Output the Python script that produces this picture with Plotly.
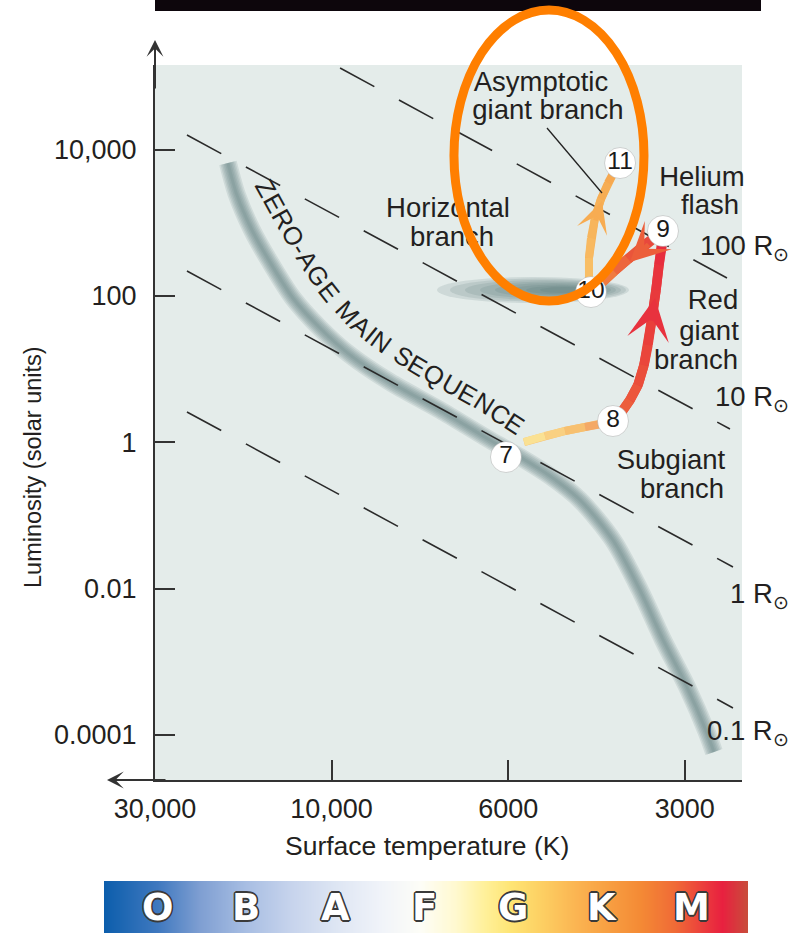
import math
import plotly.graph_objects as go

# ------------------------------------------------------------------ data
# x positions are places on the (schematic, non-linear) temperature scale
TEMP_TICK_POS = [0, 1, 2, 3]
TEMP_TICK_LABELS = ["30,000", "10,000", "6000", "3000"]
LUM_TICK_VALS = [1e4, 1e2, 1, 1e-2, 1e-4]
LUM_TICK_LABELS = ["10,000", "100", "1", "0.01", "0.0001"]

ZAMS_T = [0.413, 0.464, 0.549, 0.651, 0.781, 0.934, 1.104, 1.331, 1.614, 1.897,
          2.067, 2.237, 2.407, 2.593, 2.746, 2.877, 3.013, 3.126, 3.165]
ZAMS_L = [6560, 2390, 796, 291, 93.6, 36.4, 15.6, 6.65, 2.76, 1.07,
          0.628, 0.345, 0.162, 0.0460, 0.00954, 0.00198, 0.00045, 0.000106, 0.0000582]

ZAMS_TEXT = "ZERO-AGE MAIN SEQUENCE"
ZAMS_TEXT_T = [0.6285, 0.7361, 0.8494, 0.9796, 1.1155, 1.2741, 1.4553, 1.6478, 1.8403, 2.0385]
ZAMS_TEXT_L = [2987, 1017, 349, 120.4, 49.9, 24.2, 12.49, 6.65, 3.66, 1.774]

RADIUS_NAMES = ["100", "10", "1", "0.1"]
RADIUS_T0 = [1.048, 0.181, 0.181, 0.181]
RADIUS_L0 = [130500, 15830, 219, 2.59]
RADIUS_T1 = [3.239, 3.256, 3.273, 3.273]
RADIUS_L1 = [175.7, 1.515, 0.0197, 0.000233]
RADIUS_LABEL_L = [466, 4.02, 0.0079, 0.000106]

STAGE_LABELS = ["7", "8", "9", "10", "11"]
STAGE_T = [1.9875, 2.5934, 2.8766, 2.4689, 2.6336]
STAGE_L = [0.628, 1.949, 771, 113, 6559]

SUBGIANT_T = [2.0895, 2.2084, 2.3216, 2.4349, 2.5312, 2.5934]
SUBGIANT_L = [1.006, 1.216, 1.423, 1.614, 1.774, 1.949]
RGB_T = [2.5934, 2.6387, 2.6897, 2.7350, 2.7690, 2.7916, 2.8143, 2.8369, 2.8539, 2.8709, 2.8766]
RGB_L = [1.949, 2.51, 3.78, 6.05, 11.36, 21.3, 49.9, 120.4, 264.6, 481, 771]
FLASH_T = [2.8766, 2.8313, 2.7577, 2.6784, 2.5991, 2.5198, 2.4689]
FLASH_L = [771, 638.6, 466, 319.6, 219, 145.4, 113]
AGB_T = [2.4689, 2.4575, 2.4575, 2.4689, 2.4915, 2.5255, 2.5651, 2.6048, 2.6336]
AGB_L = [113, 165, 330, 619, 1161, 2112, 3495, 5264, 6559]

ARROW_TIP_T = [2.8313, 2.6897, 2.5312]
ARROW_TIP_L = [93.6, 290.6, 1985]
ARROW_TAIL_T = [2.8086, 2.8030, 2.4915]
ARROW_TAIL_L = [44.0, 528.7, 1024]

REGION_LABELS = ["Asymptotic", "giant branch", "Horizontal", "branch", "Helium", "flash",
                 "Red", "giant", "branch", "Subgiant", "branch"]
REGION_T = [2.1857, 2.2254, 1.6591, 1.6818, 3.0974, 3.1427, 3.1597, 3.1370, 3.0634, 2.9219, 2.9841]
REGION_L = [78900, 32700, 1494, 600, 3964, 1642, 82.5, 31.1, 12.5, 0.536, 0.215]

HB_T, HB_L = 2.1404, 120.4
LEADER_T = [2.2197, 2.5312]
LEADER_L = [19740, 2551]
HIGHLIGHT_T = [1.693, 2.769]
HIGHLIGHT_L = [85.2, 809700]

SPECTRAL_CLASSES = ["O", "B", "A", "F", "G", "K", "M"]

# ------------------------------------------------------------------ style / geometry
FIG_W, FIG_H = 803, 933
FONT = "Liberation Sans, Arial, Helvetica, sans-serif"
INK = "#231f20"
AX = "#333333"
X_PX = (155, 742)          # left, right of main plot area
Y_PX = (65, 780)           # top, bottom
X_RANGE = [0.0, 3.324]
Y_RANGE = [-4.618, 5.157]  # log10 luminosity

BAR_PX = (104, 748, 881)   # left, right, top of spectral bar
BAR_RANGE = [-0.596, 6.64]
BAR_STOPS = [-0.596, 0, 0.483, 1, 1.494, 1.989, 2.506, 2.955, 3.348, 3.685, 3.966,
             4.303, 4.697, 5.034, 5.427, 5.820, 6.157, 6.348, 6.64]
BAR_COLORS = ["#0c5eac", "#3f78bf", "#7f9fd2", "#a8bee3", "#c6d3ec", "#dde5f3", "#f0f3f9",
              "#fdfdf7", "#fff9d0", "#fff099", "#fee575", "#fdd063", "#fbb552", "#f8a143",
              "#f48a35", "#f06a36", "#eb3a3d", "#e8203f", "#c84e3b"]

LABEL_SIZE = 27.5
TICK_SIZE = 27
ARROW_COLORS = ["#e8323e", "#ec5e3a", "#f7ac52"]
ARROW_SIZES = [1.4, 1.3, 1.05]


def t_to_px(u):
    return X_PX[0] + (u - X_RANGE[0]) / (X_RANGE[1] - X_RANGE[0]) * (X_PX[1] - X_PX[0])


def l_to_py(L):
    return Y_PX[1] - (math.log10(L) - Y_RANGE[0]) / (Y_RANGE[1] - Y_RANGE[0]) * (Y_PX[1] - Y_PX[0])


def px_to_data(px, py):
    u = X_RANGE[0] + (px - X_PX[0]) / (X_PX[1] - X_PX[0]) * (X_RANGE[1] - X_RANGE[0])
    lg = Y_RANGE[0] + (Y_PX[1] - py) / (Y_PX[1] - Y_PX[0]) * (Y_RANGE[1] - Y_RANGE[0])
    return u, lg


def pxp(px, py):
    return px / FIG_W, 1 - py / FIG_H


def hex2rgb(h):
    h = h.lstrip("#")
    return [int(h[i:i + 2], 16) for i in (0, 2, 4)]


def grad(cols, t):
    n = len(cols) - 1
    k = min(int(t * n), n - 1)
    f = t * n - k
    a, b = hex2rgb(cols[k]), hex2rgb(cols[k + 1])
    return "rgb(%d,%d,%d)" % tuple(round(a[i] + (b[i] - a[i]) * f) for i in range(3))


fig = go.Figure()
annotations = []
shapes = []

# ---- zero-age main sequence band (soft, built from stacked translucent strokes)
for w in [18, 15, 12, 9, 6, 3]:
    fig.add_trace(go.Scatter(x=ZAMS_T, y=ZAMS_L, mode="lines",
                             line=dict(color="rgba(88,122,120,0.15)", width=w, shape="spline", smoothing=0.8),
                             hoverinfo="skip"))

# ---- horizontal branch blob (shape coordinates on a log axis are data values)
blob_layers = [(0, 96, 13), (5, 88, 11.5), (10, 78, 10), (15, 68, 8.5), (20, 58, 7),
               (25, 47, 5.5), (29, 36, 4.2), (32, 25, 3)]
for off, rx, ry in blob_layers:
    cx = t_to_px(HB_T) + off
    cy = l_to_py(HB_L)
    u0, l0 = px_to_data(cx - rx, cy + ry)
    u1, l1 = px_to_data(cx + rx, cy - ry)
    shapes.append(dict(type="circle", xref="x", yref="y", x0=u0, x1=u1, y0=10 ** l0, y1=10 ** l1,
                       fillcolor="rgba(78,114,112,0.15)", line=dict(width=0), layer="below"))

# ---- constant radius dashed lines
for i in range(len(RADIUS_NAMES)):
    fig.add_trace(go.Scatter(x=[RADIUS_T0[i], RADIUS_T1[i]], y=[RADIUS_L0[i], RADIUS_L1[i]],
                             mode="lines", line=dict(color="#2a2a2a", width=1.6, dash="39px,28px"),
                             hoverinfo="skip"))

# ---- evolutionary track with colour gradients
tracks = [
    (SUBGIANT_T, SUBGIANT_L, ["#fbe99c", "#f7c070", "#f08656"], 8),
    (RGB_T, RGB_L, ["#ee6a3c", "#e9423b", "#e6263f"], 9.5),
    (FLASH_T, FLASH_L, ["#e3343d", "#ec5c3a", "#f39a45"], 10),
    (AGB_T, AGB_L, ["#f9c46c", "#f7b35a", "#f5a24a"], 8),
]
for xs, ys, cols, w in tracks:
    fig.add_trace(go.Scatter(x=xs, y=ys, mode="lines", line=dict(color=grad(cols, 0.5), width=w),
                             hoverinfo="skip"))
    n = len(xs)
    for i in range(n - 1):
        fig.add_trace(go.Scatter(x=xs[i:i + 2], y=ys[i:i + 2], mode="lines",
                                 line=dict(color=grad(cols, (i + 0.5) / (n - 1)), width=w),
                                 hoverinfo="skip"))

for i in range(len(ARROW_TIP_T)):
    annotations.append(dict(x=ARROW_TIP_T[i], y=math.log10(ARROW_TIP_L[i]), xref="x", yref="y",
                            ax=ARROW_TAIL_T[i], ay=math.log10(ARROW_TAIL_L[i]), axref="x", ayref="y",
                            text="", showarrow=True, arrowhead=3, arrowsize=ARROW_SIZES[i], arrowwidth=5,
                            arrowcolor=ARROW_COLORS[i], standoff=0))

# leader line for the AGB label
fig.add_trace(go.Scatter(x=LEADER_T, y=LEADER_L, mode="lines", line=dict(color="#222", width=1.3),
                         hoverinfo="skip"))

# ---- stage circles
fig.add_trace(go.Scatter(x=STAGE_T, y=STAGE_L, mode="markers+text", text=STAGE_LABELS,
                         textposition="middle center",
                         marker=dict(size=31, color="white", line=dict(color="rgba(120,120,120,0.3)", width=1)),
                         textfont=dict(size=24.5, family=FONT, color="#1a1a1a"),
                         cliponaxis=False, hoverinfo="skip"))

# ---- region labels (as text trace so the highlight ring can cover them)
fig.add_trace(go.Scatter(x=REGION_T, y=REGION_L, mode="text", text=REGION_LABELS,
                         textposition="middle center",
                         textfont=dict(size=LABEL_SIZE, family=FONT, color=INK),
                         cliponaxis=False, hoverinfo="skip"))

# ---- ZAMS curved label, one character at a time
ARIAL_W = {"Z": .611, "E": .667, "R": .722, "O": .778, "-": .333, "A": .667, "G": .778, " ": .278,
           "M": .833, "I": .278, "N": .722, "S": .667, "Q": .778, "U": .722, "C": .722}
pts = [(t_to_px(t), l_to_py(l)) for t, l in zip(ZAMS_TEXT_T, ZAMS_TEXT_L)]
cum = [0.0]
for a, b in zip(pts[:-1], pts[1:]):
    cum.append(cum[-1] + math.hypot(b[0] - a[0], b[1] - a[1]))


def point_at(s):
    s = max(0.0, min(cum[-1], s))
    for i in range(len(pts) - 1):
        if cum[i + 1] >= s:
            f = (s - cum[i]) / (cum[i + 1] - cum[i])
            return (pts[i][0] + (pts[i + 1][0] - pts[i][0]) * f,
                    pts[i][1] + (pts[i + 1][1] - pts[i][1]) * f)
    return pts[-1]


centers = []
acc = 0.0
for ch in ZAMS_TEXT:
    w = ARIAL_W[ch]
    centers.append(acc + w / 2)
    acc += w
scale = cum[-1] / (centers[-1] - centers[0])
for ch, cem in zip(ZAMS_TEXT, centers):
    if ch == " ":
        continue
    s = (cem - centers[0]) * scale
    px, py = point_at(s)
    p1, p2 = point_at(s - 10), point_at(s + 10)
    ang = math.degrees(math.atan2(p2[1] - p1[1], p2[0] - p1[0]))
    u, lg = px_to_data(px, py)
    annotations.append(dict(x=u, y=lg, xref="x", yref="y", text=ch, textangle=ang, showarrow=False,
                            xanchor="center", yanchor="middle",
                            font=dict(size=25.5, family=FONT, color=INK)))

# ---- radius labels
for i, nm in enumerate(RADIUS_NAMES):
    annotations.append(dict(x=791 / FIG_W, xref="paper", y=math.log10(RADIUS_LABEL_L[i]), yref="y",
                            text=nm + " R<sub>\u2299</sub>", showarrow=False, xanchor="right",
                            yanchor="middle", font=dict(size=LABEL_SIZE, family=FONT, color=INK)))

# ---- axis titles
x0, y0 = pxp(427, 846)
annotations.append(dict(x=x0, y=y0, xref="paper", yref="paper", text="Surface temperature (K)",
                        showarrow=False, xanchor="center", yanchor="middle",
                        font=dict(size=26.5, family=FONT, color=INK)))
x0, y0 = pxp(33, 467)
annotations.append(dict(x=x0, y=y0, xref="paper", yref="paper", text="Luminosity (solar units)",
                        showarrow=False, textangle=-90, xanchor="center", yanchor="middle",
                        font=dict(size=23.5, family=FONT, color=INK)))

# ---- axis arrow extensions
x0, y0 = pxp(155, 40)
annotations.append(dict(x=x0, y=y0, xref="paper", yref="paper", ax=0, ay=50, text="", showarrow=True,
                        arrowhead=3, arrowsize=1.4, arrowwidth=2, arrowcolor=AX, standoff=0))
x0, y0 = pxp(107, 780)
annotations.append(dict(x=x0, y=y0, xref="paper", yref="paper", ax=60, ay=0, text="", showarrow=True,
                        arrowhead=3, arrowsize=1.4, arrowwidth=2, arrowcolor=AX, standoff=0))

# ---- top dark strip and highlight ellipse
bx0, by0 = pxp(155, 11)
bx1, by1 = pxp(761, 0)
shapes.append(dict(type="rect", xref="paper", yref="paper", x0=bx0, x1=bx1, y0=by0, y1=by1,
                   fillcolor="#0d060c", line=dict(width=0), layer="above"))
ex0, ey0 = pxp(t_to_px(HIGHLIGHT_T[0]), l_to_py(HIGHLIGHT_L[0]))
ex1, ey1 = pxp(t_to_px(HIGHLIGHT_T[1]), l_to_py(HIGHLIGHT_L[1]))
shapes.append(dict(type="circle", xref="paper", yref="paper", x0=ex0, x1=ex1, y0=ey0, y1=ey1,
                   line=dict(color="#ff7f00", width=9), fillcolor="rgba(0,0,0,0)", layer="above"))

# ---- spectral class bar
lo, hi = BAR_STOPS[0], BAR_STOPS[-1]
cscale = [[(s - lo) / (hi - lo), c] for s, c in zip(BAR_STOPS, BAR_COLORS)]
fig.add_trace(go.Heatmap(x=BAR_STOPS, y=[0, 1], z=[BAR_STOPS, BAR_STOPS], colorscale=cscale,
                         zmin=lo, zmax=hi, zsmooth="best", showscale=False,
                         xaxis="x2", yaxis="y2", hoverinfo="skip"))
outline = ", ".join("%gpx %gpx 0 #3a3a3a" % (dx, dy) for dx, dy in
                    [(-1.6, 0), (1.6, 0), (0, -1.6), (0, 1.6), (-1.2, -1.2), (1.2, -1.2), (-1.2, 1.2), (1.2, 1.2)])
for k, cl in enumerate(SPECTRAL_CLASSES):
    annotations.append(dict(x=k, y=0.5, xref="x2", yref="y2", text=cl, showarrow=False,
                            xanchor="center", yanchor="middle",
                            font=dict(size=37, family="DejaVu Sans", color="white", weight="bold",
                                      shadow=outline)))

tickfont = dict(size=TICK_SIZE, family=FONT, color=INK)
fig.update_layout(
    width=FIG_W, height=FIG_H, margin=dict(l=0, r=0, t=0, b=0, pad=0),
    paper_bgcolor="white", plot_bgcolor="#e4ecea", showlegend=False, hovermode=False,
    font=dict(family=FONT, color=INK),
    xaxis=dict(domain=[X_PX[0] / FIG_W, X_PX[1] / FIG_W], range=X_RANGE, anchor="y",
               tickmode="array", tickvals=TEMP_TICK_POS, ticktext=TEMP_TICK_LABELS,
               ticks="inside", ticklen=20, tickwidth=1.5, tickcolor=AX, tickfont=tickfont,
               showline=True, linecolor=AX, linewidth=2, showgrid=False, zeroline=False,
               automargin=False, ticklabelstandoff=4, fixedrange=True),
    yaxis=dict(domain=[1 - Y_PX[1] / FIG_H, 1 - Y_PX[0] / FIG_H], type="log", range=Y_RANGE,
               anchor="x", tickmode="array", tickvals=LUM_TICK_VALS, ticktext=LUM_TICK_LABELS,
               ticks="inside", ticklen=20, tickwidth=1.5, tickcolor=AX, tickfont=tickfont,
               showline=True, linecolor=AX, linewidth=2, showgrid=False, zeroline=False,
               automargin=False, ticklabelstandoff=11, fixedrange=True),
    xaxis2=dict(domain=[BAR_PX[0] / FIG_W, BAR_PX[1] / FIG_W], range=BAR_RANGE, anchor="y2",
                visible=False, fixedrange=True),
    yaxis2=dict(domain=[0, 1 - BAR_PX[2] / FIG_H], range=[0, 1], anchor="x2",
                visible=False, fixedrange=True),
    annotations=annotations, shapes=shapes,
)

# the page body has a default 8px margin; remove it so the figure sits at the window origin
fig.write_html("out.html", config={"displayModeBar": False},
               post_script="document.body.style.margin='0';")
